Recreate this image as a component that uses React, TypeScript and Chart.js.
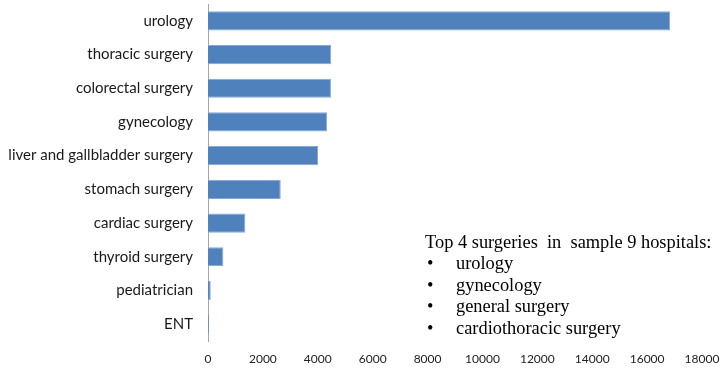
import React, { useEffect, useRef } from "react";
import { Chart, registerables } from "chart.js";

Chart.register(...registerables);

const categories = [
  "urology",
  "thoracic surgery",
  "colorectal surgery",
  "gynecology",
  "liver and gallbladder surgery",
  "stomach surgery",
  "cardiac surgery",
  "thyroid surgery",
  "pediatrician",
  "ENT",
];
const surgeryCounts = [16840, 4490, 4480, 4340, 4010, 2650, 1360, 560, 100, 40];
const axisMin = 0;
const axisMax = 18000;
const axisStep = 2000;

const annotationTitle = "Top 4 surgeries  in  sample 9 hospitals:";
const annotationItems = ["urology", "gynecology", "general surgery", "cardiothoracic surgery"];

const annotationPlugin = {
  id: "annotationText",
  afterDraw(chart: any) {
    const ctx = chart.ctx;
    ctx.save();
    ctx.fillStyle = "#000";
    ctx.font = '18.4px "Liberation Serif", "Times New Roman", serif';
    ctx.textBaseline = "middle";
    ctx.textAlign = "left";
    ctx.fillText(annotationTitle, 425, 243);
    annotationItems.forEach((item, i) => {
      const y = 264 + i * 21.7;
      ctx.fillText("\u2022", 427, y);
      ctx.fillText(item, 456, y);
    });
    ctx.restore();
  },
};

export default function App() {
  const ref = useRef<HTMLCanvasElement | null>(null);
  useEffect(() => {
    document.body.style.margin = "0";
    const canvas = ref.current;
    if (!canvas) return;
    const chart = new Chart(canvas, {
      type: "bar",
      data: {
        labels: categories,
        datasets: [
          {
            data: surgeryCounts,
            backgroundColor: "#4F81BD",
            borderColor: "#86A8D4",
            borderWidth: { top: 1, bottom: 1, left: 0, right: 1 },
            categoryPercentage: 1,
            barPercentage: 0.57,
          },
        ],
      },
      options: {
        indexAxis: "y",
        responsive: false,
        animation: false,
        layout: { padding: { top: 4, right: 19, bottom: 0, left: 0 } },
        plugins: { legend: { display: false }, tooltip: { enabled: false } },
        scales: {
          x: {
            min: axisMin,
            max: axisMax,
            grid: { display: false, drawTicks: false },
            border: { display: false },
            ticks: {
              stepSize: axisStep,
              padding: 11,
              maxRotation: 0,
              color: "#222",
              font: { family: "Lato, 'Open Sans', sans-serif", size: 12 },
              callback: (v: any) => String(v),
            },
            afterFit(scale: any) {
              scale.height = 27;
              scale.paddingTop = 0;
              scale.paddingBottom = 0;
              scale.paddingLeft = 0;
              scale.paddingRight = 0;
            },
          },
          y: {
            grid: { display: false, drawTicks: false },
            border: { display: true, color: "#a6a6a6", width: 1 },
            ticks: {
              padding: 15,
              color: "#1a1a1a",
              font: { family: "Lato, 'Open Sans', sans-serif", size: 15 },
            },
            afterFit(scale: any) {
              scale.width = 208;
              scale.paddingTop = 0;
              scale.paddingBottom = 0;
              scale.paddingLeft = 0;
              scale.paddingRight = 0;
            },
          },
        },
      },
      plugins: [annotationPlugin],
    });
    return () => chart.destroy();
  }, []);
  return (
    <div style={{ width: 721, height: 368 }}>
      <canvas ref={ref} width={721} height={368} style={{ display: "block" }} />
    </div>
  );
}
